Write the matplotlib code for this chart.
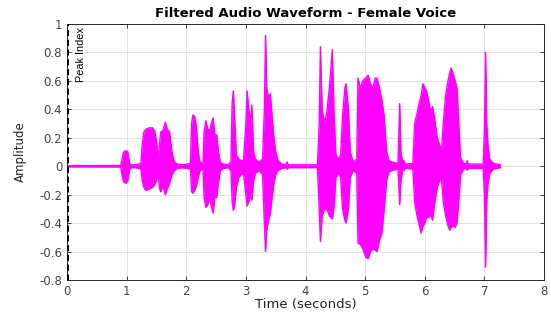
import matplotlib
matplotlib.use("Agg")
import matplotlib.pyplot as plt
import numpy as np

# Envelope of the filtered waveform
time_s = [0.00, 0.90, 0.93, 0.95, 0.99, 1.02, 1.05, 1.08, 1.15, 1.24,
          1.26, 1.29, 1.32, 1.38, 1.43, 1.47, 1.50, 1.53, 1.55,
          1.57, 1.61, 1.65, 1.68, 1.72, 1.76, 1.80, 1.85, 1.95, 2.07,
          2.09, 2.11, 2.14, 2.17, 2.20, 2.23, 2.28,
          2.30, 2.33, 2.36, 2.39, 2.42, 2.45, 2.48, 2.51, 2.54, 2.57, 2.62, 2.70,
          2.75, 2.77, 2.79, 2.81, 2.84, 2.88, 2.92, 2.96,
          3.00, 3.02, 3.05, 3.08, 3.10, 3.13, 3.16, 3.22, 3.28,
          3.31, 3.33, 3.35, 3.38, 3.41, 3.44, 3.47, 3.50, 3.54, 3.60,
          3.67, 3.69, 3.71, 4.20,
          4.23, 4.25, 4.28, 4.32, 4.36, 4.40, 4.45, 4.48, 4.51, 4.55, 4.59,
          4.62, 4.66, 4.68, 4.72, 4.75, 4.80, 4.86,
          4.88, 4.92, 4.96, 5.01, 5.05, 5.09, 5.13, 5.17, 5.20, 5.24, 5.28, 5.32, 5.36,
          5.40, 5.45, 5.55, 5.58, 5.60, 5.63, 5.65, 5.67, 5.80,
          5.83, 5.87, 5.91, 5.94, 5.97, 6.00, 6.03, 6.07, 6.10, 6.13, 6.17, 6.21, 6.25, 6.28,
          6.31, 6.35, 6.39, 6.42, 6.44, 6.47, 6.51, 6.54, 6.57, 6.60, 6.65,
          6.70, 6.71, 6.73, 6.98,
          7.00, 7.02, 7.04, 7.06, 7.09, 7.15, 7.27]
upper = [0.004, 0.005, 0.06, 0.10, 0.11, 0.10, 0.02, 0.01, 0.01, 0.02,
         0.15, 0.24, 0.26, 0.27, 0.27, 0.25, 0.18, 0.05, 0.15,
         0.24, 0.25, 0.31, 0.26, 0.24, 0.10, 0.03, 0.015, 0.01, 0.02,
         0.30, 0.36, 0.35, 0.28, 0.10, 0.03, 0.02,
         0.25, 0.32, 0.26, 0.25, 0.30, 0.34, 0.22, 0.22, 0.10, 0.03, 0.015, 0.01,
         0.03, 0.45, 0.53, 0.35, 0.08, 0.05, 0.04, 0.04,
         0.30, 0.53, 0.40, 0.30, 0.43, 0.10, 0.05, 0.03, 0.05,
         0.40, 0.92, 0.55, 0.48, 0.51, 0.35, 0.20, 0.10, 0.04, 0.015,
         0.01, 0.03, 0.01, 0.01,
         0.30, 0.84, 0.40, 0.30, 0.39, 0.55, 0.82, 0.35, 0.08, 0.05, 0.08,
         0.35, 0.55, 0.58, 0.40, 0.10, 0.03, 0.05,
         0.62, 0.55, 0.60, 0.62, 0.64, 0.58, 0.55, 0.62, 0.62, 0.55, 0.47, 0.35, 0.10,
         0.04, 0.03, 0.02, 0.44, 0.10, 0.03, 0.04, 0.015, 0.02,
         0.30, 0.37, 0.45, 0.50, 0.58, 0.55, 0.53, 0.45, 0.38, 0.42, 0.32, 0.20, 0.15, 0.10,
         0.30, 0.50, 0.60, 0.66, 0.69, 0.66, 0.60, 0.55, 0.30, 0.06, 0.02,
         0.015, 0.04, 0.015, 0.015,
         0.25, 0.80, 0.30, 0.15, 0.05, 0.02, 0.01]
lower = [-0.004, -0.005, -0.08, -0.11, -0.12, -0.10, -0.02, -0.01, -0.01, -0.02,
         -0.10, -0.15, -0.17, -0.16, -0.15, -0.13, -0.10, -0.05, -0.15,
         -0.18, -0.14, -0.20, -0.16, -0.12, -0.06, -0.03, -0.015, -0.01, -0.02,
         -0.18, -0.19, -0.17, -0.14, -0.08, -0.03, -0.02,
         -0.22, -0.29, -0.27, -0.22, -0.28, -0.33, -0.22, -0.22, -0.12, -0.03, -0.015, -0.01,
         -0.03, -0.25, -0.31, -0.28, -0.15, -0.08, -0.06, -0.05,
         -0.20, -0.28, -0.25, -0.20, -0.24, -0.10, -0.05, -0.03, -0.06,
         -0.40, -0.60, -0.45, -0.38, -0.33, -0.22, -0.12, -0.06, -0.03, -0.015,
         -0.01, -0.02, -0.01, -0.01,
         -0.30, -0.53, -0.35, -0.30, -0.30, -0.35, -0.37, -0.28, -0.08, -0.05, -0.08,
         -0.30, -0.38, -0.40, -0.30, -0.08, -0.03, -0.05,
         -0.54, -0.55, -0.58, -0.64, -0.65, -0.60, -0.58, -0.59, -0.60, -0.52, -0.47, -0.30, -0.10,
         -0.04, -0.03, -0.02, -0.27, -0.10, -0.03, -0.03, -0.015, -0.02,
         -0.25, -0.35, -0.42, -0.47, -0.42, -0.40, -0.36, -0.36, -0.34, -0.38, -0.25, -0.15, -0.10, -0.08,
         -0.25, -0.35, -0.42, -0.45, -0.43, -0.42, -0.43, -0.40, -0.25, -0.06, -0.02,
         -0.015, -0.03, -0.015, -0.015,
         -0.20, -0.71, -0.25, -0.12, -0.05, -0.02, -0.01]

x_ticks = [0, 1, 2, 3, 4, 5, 6, 7, 8]
y_ticks = [-0.8, -0.6, -0.4, -0.2, 0, 0.2, 0.4, 0.6, 0.8, 1]
y_tick_labels = ["-0.8", "-0.6", "-0.4", "-0.2", "0", "0.2", "0.4", "0.6", "0.8", "1"]
peak_x = [0]

plt.rcParams['font.family'] = ['DejaVu Sans']

fig = plt.figure(figsize=(5.51, 3.14), dpi=100)
ax = fig.add_axes([67/551, 34/314, (544-67)/551, (280-24)/314])

col = '#FF00FF'
ax.fill_between(time_s, lower, upper, color=col, linewidth=0)
ax.plot(time_s, upper, color=col, lw=1.0)
ax.plot(time_s, lower, color=col, lw=1.0)

for px in peak_x:
    ax.axvline(px, color='black', ls=(0, (2, 1.2)), lw=2.2, zorder=5)
    ax.text(px + 0.24, 0.975, 'Peak Index', rotation=90, ha='center', va='top',
            fontsize=7.8, color='black', family='Liberation Sans')

ax.set_xlim(0, 8)
ax.set_ylim(-0.8, 1)
ax.set_xticks(x_ticks)
ax.set_yticks(y_ticks)
ax.set_yticklabels(y_tick_labels)
ax.grid(True, color='#dedede', lw=0.6)
ax.set_axisbelow(True)
ax.tick_params(direction='in', top=True, right=True, length=3, width=0.6,
               colors='#262626', labelsize=8.5, labelcolor='#444444')
for s in ax.spines.values():
    s.set_color('#262626')
    s.set_linewidth(0.7)

ax.set_title('Filtered Audio Waveform - Female Voice', fontsize=9.5, fontweight='bold', pad=5)
ax.set_xlabel('Time (seconds)', fontsize=9.5, labelpad=0, color='#222222')
ax.set_ylabel('Amplitude', fontsize=8.5, labelpad=9, color='#222222')

fig.savefig('out.png', dpi=100)
